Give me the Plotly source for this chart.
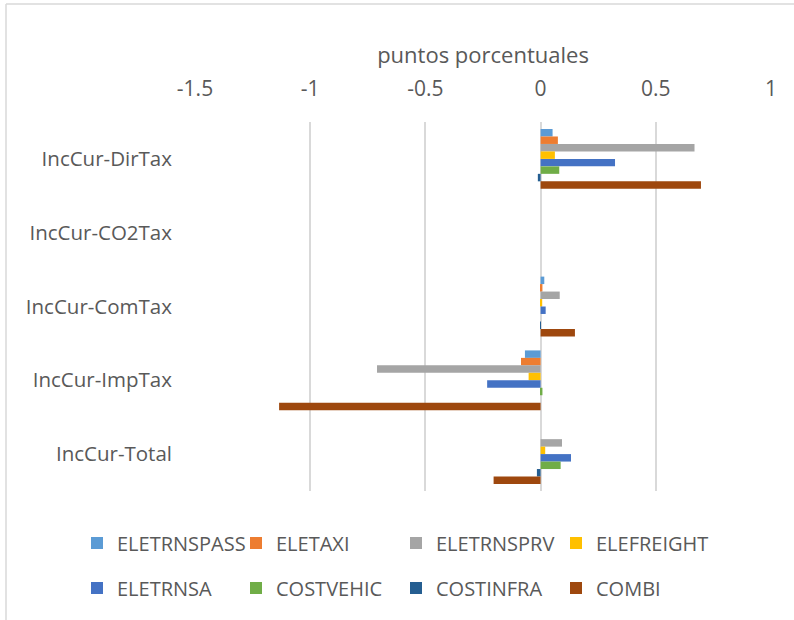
import plotly.graph_objects as go

categories = ["IncCur-DirTax", "IncCur-CO2Tax", "IncCur-ComTax", "IncCur-ImpTax", "IncCur-Total"]
series_names = ["ELETRNSPASS", "ELETAXI", "ELETRNSPRV", "ELEFREIGHT",
                "ELETRNSA", "COSTVEHIC", "COSTINFRA", "COMBI"]

ELETRNSPASS = [0.052, 0.0, 0.016, -0.068, 0.0]
ELETAXI     = [0.075, 0.0, 0.008, -0.085, 0.0]
ELETRNSPRV  = [0.668, 0.0, 0.083, -0.710, 0.093]
ELEFREIGHT  = [0.062, 0.0, 0.007, -0.052, 0.020]
ELETRNSA    = [0.323, 0.0, 0.022, -0.232, 0.132]
COSTVEHIC   = [0.081, 0.0, 0.000, 0.008, 0.087]
COSTINFRA   = [-0.012, 0.0, -0.002, 0.000, -0.016]
COMBI       = [0.696, 0.0, 0.149, -1.135, -0.204]

values = [ELETRNSPASS, ELETAXI, ELETRNSPRV, ELEFREIGHT, ELETRNSA, COSTVEHIC, COSTINFRA, COMBI]
colors = ["#5B9BD5", "#ED7D31", "#A5A5A5", "#FFC000", "#4472C4", "#70AD47", "#255E91", "#9E480E"]

x_ticks = [-1.5, -1, -0.5, 0, 0.5, 1]
x_title = "puntos porcentuales"

FONT = "Open Sans"
GRAY = "#595959"
GRID = "#d9d9d9"

L, R, T, B = 195, 23, 122, 129
W, H = 794, 620
pw = W - L - R
ph = H - T - B

# legend entry positions (left edge of legend box, row centre) in pixels
leg_cols = [77, 236, 396, 556]
leg_rows = [543, 588]

fig = go.Figure()
legends = {}
for i, (name, vals, col) in enumerate(zip(series_names, values, colors)):
    key = "legend" if i == 0 else f"legend{i + 1}"
    fig.add_trace(go.Bar(
        y=categories, x=vals, name=name, orientation="h",
        marker=dict(color=col, line=dict(width=0)),
        legend=key, showlegend=True,
    ))
    legends[key] = dict(
        orientation="h", xref="container", yref="container",
        x=leg_cols[i % 4] / W, y=1 - leg_rows[i // 4] / H,
        xanchor="left", yanchor="middle", itemwidth=30,
        bgcolor="rgba(0,0,0,0)", borderwidth=0, visible=True,
        font=dict(size=20, color=GRAY, family=FONT),
    )


def px2paper_x(px):
    return (px - L) / pw


def px2paper_y(py):
    return (H - B - py) / ph


fig.update_layout(
    width=W, height=H, showlegend=True,
    margin=dict(l=L, r=R, t=T, b=B, autoexpand=False),
    paper_bgcolor="white", plot_bgcolor="white",
    barmode="group", bargap=0.19, bargroupgap=0,
    font=dict(family=FONT, color=GRAY, size=20),
    xaxis=dict(
        side="top", range=[-1.5, 1], tickvals=x_ticks,
        ticktext=[f"{v:g}" for v in x_ticks],
        showgrid=True, gridcolor=GRID, gridwidth=1.5,
        zeroline=True, zerolinecolor=GRID, zerolinewidth=1.5,
        showline=False, ticks="", ticklabelstandoff=21, automargin=False,
        tickfont=dict(size=21, color=GRAY, family=FONT),
        title=dict(text=x_title, font=dict(size=22, color=GRAY, family=FONT), standoff=4),
    ),
    yaxis=dict(
        autorange="reversed", showgrid=False, showline=False, ticks="",
        ticklabelstandoff=22, automargin=False,
        tickfont=dict(size=20.5, color=GRAY, family=FONT),
    ),
    shapes=[
        dict(type="line", xref="paper", yref="paper",
             x0=px2paper_x(6), x1=px2paper_x(6), y0=px2paper_y(4), y1=px2paper_y(625),
             line=dict(color=GRID, width=1.5)),
        dict(type="line", xref="paper", yref="paper",
             x0=px2paper_x(6), x1=px2paper_x(800), y0=px2paper_y(4), y1=px2paper_y(4),
             line=dict(color=GRID, width=1.5)),
    ],
    **legends,
)

fig.write_html("out.html", config={"displayModeBar": False},
               post_script="document.body.style.margin='0px';")
